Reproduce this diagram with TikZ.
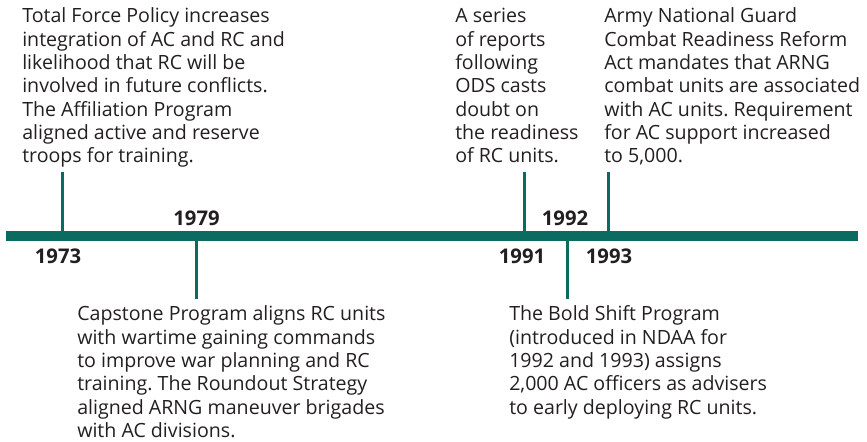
\documentclass[tikz,border=0pt]{standalone}
\usepackage{fontspec}
\setmainfont{Open Sans}
\frenchspacing
\definecolor{tlgreen}{RGB}{12,107,97}
\definecolor{tltext}{RGB}{35,31,32}

\begin{document}
\begin{tikzpicture}[x=0.75pt, y=-0.75pt,
  bar/.style = {tlgreen, line width=7.5pt},
  tick/.style = {tlgreen, line width=2.25pt},
  event/.style = {anchor=base west, align=left, inner sep=0pt, text=tltext, font=\fontsize{14.7}{17.5}\selectfont},
  year/.style = {anchor=base, inner sep=0pt, text=tltext, font=\fontsize{15.2}{17.5}\selectfont\bfseries}]

\useasboundingbox (0,0) rectangle (867,442);

% Timeline
\coordinate (bar-w) at (6,236);
\coordinate (bar-e) at (858,236);
\draw[bar] (bar-w) -- (bar-e);

% Ticks
\coordinate (tick1973) at (62,172);
\coordinate (tick1979) at (196,299);
\coordinate (tick1991) at (524,172);
\coordinate (tick1992) at (567,299);
\coordinate (tick1993) at (608,172);
\foreach \t in {1973,1979,1991,1992,1993} {
  \draw[tick] (tick\t) -- (tick\t |- bar-w);
}

% Years
\node[year] (y1973) at (58,263) {1973};
\node[year] (y1979) at (196.5,225) {1979};
\node[year] (y1991) at (522,263) {1991};
\node[year] (y1992) at (565,225) {1992};
\node[year] (y1993) at (609,263) {1993};

% Events (anchored at the baseline of the last line)
\node[event] (ev1973) at (22,163) {Total Force Policy increases\\integration of AC and RC and\\likelihood that RC will be\\involved in future conflicts.\\The Affiliation Program\\aligned active and reserve\\troops for training.};
\node[event] (ev1979) at (77,437.5) {Capstone Program aligns RC units\\with wartime gaining commands\\to improve war planning and RC\\training. The Roundout Strategy\\aligned ARNG maneuver brigades\\with AC divisions.};
\node[event] (ev1991) at (455,163) {A series\\of reports\\following\\ODS casts\\doubt on\\the readiness\\of RC units.};
\node[event] (ev1992) at (509,414) {The Bold Shift Program\\(introduced in NDAA for\\1992 and 1993) assigns\\2,000 AC officers as advisers\\to early deploying RC units.};
\node[event] (ev1993) at (604,163) {Army National Guard\\Combat Readiness Reform\\Act mandates that ARNG\\combat units are associated\\with AC units. Requirement\\for AC support increased\\to 5,000.};

\end{tikzpicture}
\end{document}
